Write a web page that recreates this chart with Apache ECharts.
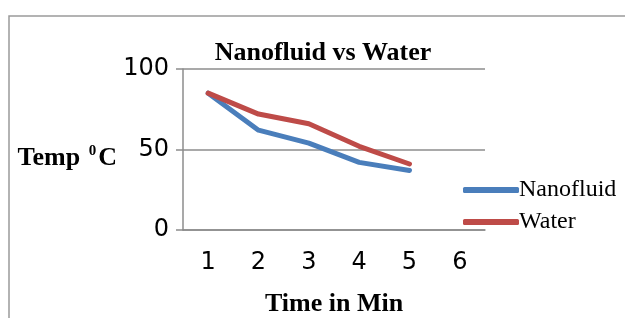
<!DOCTYPE html>
<html>
<head>
<meta charset="utf-8">
<script src="https://cdn.jsdelivr.net/npm/echarts@6/dist/echarts.min.js"></script>
<style>
  html, body { margin: 0; padding: 0; background: #fff; }
  #chart { width: 625px; height: 318px; }
</style>
</head>
<body>
<div id="chart"></div>
<script>
    const minutes = ['1', '2', '3', '4', '5', '6'];
    const nanofluidTemp = [85, 62, 54, 42, 37];
    const waterTemp = [85, 72, 66, 52, 41];
    const seriesNames = ['Nanofluid', 'Water'];

    let chartDom = document.getElementById('chart');
    let myChart = echarts.init(chartDom);

    let gray = '#8c8c8c';
    let serif = '"Liberation Serif", "DejaVu Serif", serif';
    let sans = '"DejaVu Sans", sans-serif';

    myChart.setOption({
        animation: false,
        color: ['#4a7ebb', '#be4b48'],
        title: {
            text: 'Nanofluid vs Water',
            left: 318,
            textAlign: 'center',
            top: 35,
            textStyle: { fontFamily: serif, fontWeight: 'bold', fontSize: 26, color: '#000' }
        },
        graphic: [{
            type: 'rect',
            shape: { x: 9, y: 16, width: 700, height: 400 },
            style: { fill: 'none', stroke: '#9a9a9a', lineWidth: 1.5 }
        }],
        legend: {
            orient: 'vertical',
            left: 458,
            top: 173,
            itemGap: 8,
            itemWidth: 56,
            itemHeight: 6,
            icon: 'roundRect',
            textStyle: { fontFamily: serif, fontSize: 24, color: '#000', padding: [0, 0, 0, -5] }
        },
        grid: { left: 183, right: 140, top: 69, bottom: 88, outerBoundsMode: 'none', containLabel: false },
        xAxis: {
            type: 'category',
            data: minutes,
            boundaryGap: true,
            name: 'Time in Min',
            nameLocation: 'middle',
            nameGap: 61,
            nameTextStyle: { fontFamily: serif, fontWeight: 'bold', fontSize: 26, color: '#000' },
            axisLine: { lineStyle: { color: gray, width: 1.5 } },
            axisTick: { alignWithLabel: false, length: 9, lineStyle: { color: gray, width: 1.5 } },
            axisLabel: { margin: 21, fontFamily: sans, fontSize: 24, color: '#000' }
        },
        yAxis: {
            type: 'value',
            min: 0,
            max: 100,
            interval: 50,
            name: '{b|Temp }{s|0}{b|C}',
            nameLocation: 'middle',
            nameRotate: 0,
            nameGap: 66,
            nameTextStyle: {
                align: 'right',
                padding: [18, 0, 0, 0],
                rich: {
                    b: { fontFamily: serif, fontWeight: 'bold', fontSize: 26, color: '#000' },
                    s: { fontFamily: serif, fontWeight: 'bold', fontSize: 15, color: '#000', verticalAlign: 'top', padding: [0, 2, 14, 2] }
                }
            },
            axisLine: { show: true, lineStyle: { color: gray, width: 1.5 } },
            axisTick: { show: true, length: 7, lineStyle: { color: gray, width: 1.5 } },
            splitLine: { lineStyle: { color: gray, width: 1.5 } },
            axisLabel: { margin: 14, fontFamily: sans, fontSize: 24, color: '#000' }
        },
        series: [
            {
                name: seriesNames[0],
                type: 'line',
                data: nanofluidTemp,
                showSymbol: false,
                symbol: 'none',
                lineStyle: { width: 5, cap: 'round', join: 'round' }
            },
            {
                name: seriesNames[1],
                type: 'line',
                data: waterTemp,
                showSymbol: false,
                symbol: 'none',
                lineStyle: { width: 5, cap: 'round', join: 'round' }
            }
        ]
    });
</script>
</body>
</html>
